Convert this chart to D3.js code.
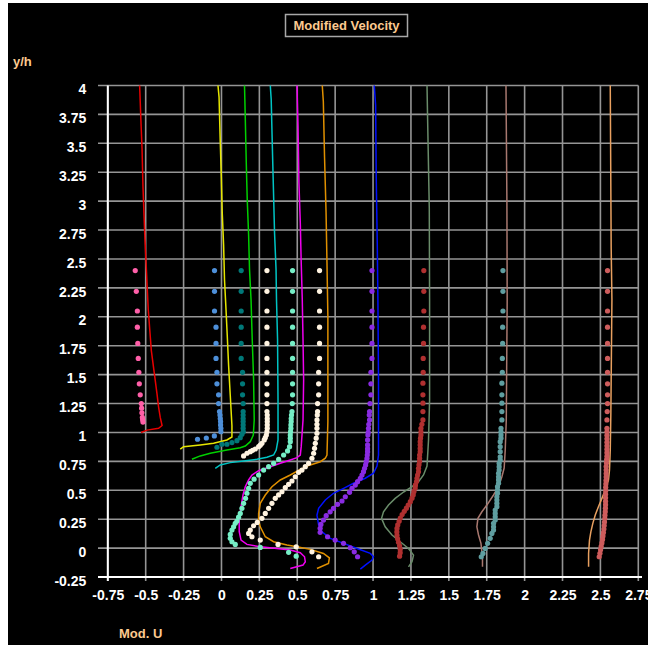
<!DOCTYPE html>
<html>
<head>
<meta charset="utf-8">
<script src="https://cdn.jsdelivr.net/npm/d3@7"></script>
<style>
body { margin: 0; background: #fff; }
</style>
</head>
<body>
<div id="chart"></div>
<script>
// tick labels
var xTicks = [-0.75, -0.5, -0.25, 0, 0.25, 0.5, 0.75, 1, 1.25, 1.5, 1.75, 2, 2.25, 2.5, 2.75];
var yTicks = [-0.25, 0, 0.25, 0.5, 0.75, 1, 1.25, 1.5, 1.75, 2, 2.25, 2.5, 2.75, 3, 3.25, 3.5, 3.75, 4];

// computed profiles (lines), [u, y/h]
var redLine = [[-0.540,4.0],[-0.531,3.68],[-0.524,3.45],[-0.518,3.13],[-0.511,2.88],[-0.505,2.67],[-0.498,2.48],[-0.483,2.06],[-0.463,1.71],[-0.437,1.45],[-0.426,1.34],[-0.415,1.22],[-0.404,1.13],[-0.392,1.06],[-0.415,1.036],[-0.491,1.02],[-0.531,1.0]];
var yellowLine = [[-0.023,4.0],[-0.016,3.90],[-0.008,3.51],[-0.001,3.21],[0.005,2.90],[0.014,2.62],[0.020,2.32],[0.030,2.06],[0.038,1.84],[0.047,1.58],[0.058,1.32],[0.069,1.06],[0.069,0.961],[0.036,0.935],[-0.052,0.906],[-0.140,0.892],[-0.250,0.877],[-0.272,0.855]];
var greenLine = [[0.152,4.0],[0.157,3.72],[0.164,3.31],[0.170,3.01],[0.179,2.71],[0.185,2.41],[0.195,2.15],[0.203,1.80],[0.212,1.455],[0.216,1.108],[0.210,0.978],[0.190,0.92],[0.157,0.883],[0.124,0.868],[0.036,0.848],[-0.074,0.82],[-0.140,0.797],[-0.195,0.768]];
var cyanLine = [[0.322,4.0],[0.328,3.88],[0.337,3.40],[0.344,3.04],[0.350,2.73],[0.360,2.41],[0.363,2.15],[0.370,1.80],[0.373,1.28],[0.373,0.935],[0.361,0.848],[0.344,0.805],[0.300,0.785],[0.234,0.768],[0.146,0.753],[0.058,0.739],[-0.008,0.719],[-0.041,0.69]];
var magentaLine = [[0.498,4.0],[0.505,3.645],[0.511,3.16],[0.520,2.81],[0.526,2.47],[0.533,2.15],[0.538,1.80],[0.542,1.455],[0.538,1.108],[0.526,0.877],[0.520,0.805],[0.498,0.782],[0.454,0.762],[0.388,0.733],[0.322,0.704],[0.245,0.669],[0.201,0.632],[0.179,0.589],[0.157,0.531],[0.142,0.459],[0.129,0.358],[0.117,0.242],[0.117,0.141],[0.129,0.069],[0.168,0.032],[0.256,0.011],[0.366,-0.003],[0.454,-0.017],[0.520,-0.04],[0.548,-0.075],[0.553,-0.118],[0.538,-0.147],[0.454,-0.176]];
var orangeLine = [[0.665,4.0],[0.672,3.86],[0.680,3.38],[0.690,2.90],[0.696,2.47],[0.702,2.0],[0.702,1.094],[0.696,0.805],[0.685,0.777],[0.652,0.747],[0.586,0.719],[0.520,0.681],[0.454,0.632],[0.388,0.589],[0.333,0.531],[0.289,0.459],[0.256,0.387],[0.245,0.30],[0.245,0.242],[0.256,0.184],[0.289,0.098],[0.344,0.055],[0.432,0.026],[0.498,0.011],[0.586,-0.011],[0.673,-0.046],[0.712,-0.085],[0.706,-0.132],[0.630,-0.176]];
var blueLine = [[1.008,4.0],[1.017,3.83],[1.021,3.21],[1.028,2.61],[1.032,2.15],[1.036,1.455],[1.036,0.805],[1.026,0.71],[1.003,0.647],[0.949,0.604],[0.871,0.561],[0.806,0.517],[0.739,0.474],[0.685,0.416],[0.641,0.344],[0.630,0.286],[0.641,0.199],[0.663,0.141],[0.718,0.084],[0.806,0.041],[0.894,-0.003],[0.982,-0.046],[1.003,-0.075],[0.993,-0.104],[0.949,-0.147],[0.916,-0.182]];
var sageLine = [[1.356,4.0],[1.360,3.71],[1.371,2.94],[1.373,2.15],[1.373,1.28],[1.366,0.935],[1.356,0.71],[1.333,0.632],[1.300,0.574],[1.257,0.531],[1.201,0.485],[1.146,0.43],[1.102,0.372],[1.069,0.314],[1.056,0.257],[1.080,0.184],[1.125,0.113],[1.179,0.055],[1.234,-0.003],[1.267,-0.061],[1.257,-0.118],[1.234,-0.162]];
var rosyLine = [[1.877,4.0],[1.883,3.01],[1.885,2.15],[1.881,1.455],[1.879,1.108],[1.872,0.848],[1.865,0.692],[1.850,0.617],[1.828,0.531],[1.795,0.459],[1.751,0.372],[1.718,0.314],[1.692,0.257],[1.685,0.184],[1.696,0.113],[1.712,0.041],[1.718,-0.032],[1.722,-0.104],[1.722,-0.162]];
var sandyLine = [[2.565,4.0],[2.571,2.60],[2.576,2.15],[2.571,1.455],[2.569,1.17],[2.565,0.848],[2.560,0.675],[2.553,0.589],[2.532,0.502],[2.510,0.43],[2.487,0.358],[2.466,0.286],[2.450,0.214],[2.437,0.141],[2.428,0.069],[2.422,-0.046],[2.422,-0.162]];

// measured profiles (dots)
var pinkDots = [[-0.569,2.4],[-0.562,2.22],[-0.555,2.05],[-0.555,1.91],[-0.552,1.77],[-0.549,1.64],[-0.545,1.52],[-0.542,1.42],[-0.536,1.325],[-0.529,1.25],[-0.527,1.21],[-0.525,1.17],[-0.522,1.13],[-0.520,1.11],[-0.518,1.09]];
var cornDots = [[-0.046,2.4],[-0.046,2.22],[-0.046,2.05],[-0.036,1.91],[-0.036,1.77],[-0.036,1.64],[-0.030,1.52],[-0.030,1.42],[-0.019,1.325],[-0.019,1.25],[-0.013,1.18],[-0.010,1.15],[-0.008,1.12],[-0.006,1.094],[-0.006,1.065],[-0.004,1.036],[-0.004,1.007],[-0.047,0.97],[-0.10,0.952],[-0.158,0.941]];
var tealDots = [[0.130,2.4],[0.130,2.22],[0.130,2.05],[0.130,1.91],[0.130,1.77],[0.130,1.64],[0.139,1.52],[0.139,1.42],[0.139,1.325],[0.143,1.25],[0.143,1.18],[0.143,1.15],[0.143,1.12],[0.143,1.094],[0.143,1.065],[0.143,1.036],[0.144,1.007],[0.135,0.985],[0.124,0.955],[0.102,0.929],[0.069,0.912],[0.036,0.898],[0.003,0.898],[-0.030,0.872]];
var ivoryDots = [[0.300,2.4],[0.300,2.22],[0.300,2.05],[0.300,1.91],[0.300,1.77],[0.300,1.64],[0.300,1.52],[0.300,1.42],[0.300,1.325],[0.300,1.25],[0.300,1.18],[0.302,1.15],[0.302,1.12],[0.302,1.094],[0.302,1.065],[0.302,1.036],[0.300,1.007],[0.296,0.978],[0.289,0.955],[0.282,0.935],[0.267,0.906],[0.256,0.89],[0.245,0.877],[0.223,0.857],[0.205,0.845],[0.190,0.834],[0.168,0.82],[0.146,0.797]];
var aquaDots = [[0.469,2.4],[0.469,2.22],[0.469,2.05],[0.469,1.91],[0.469,1.77],[0.469,1.64],[0.469,1.52],[0.469,1.42],[0.469,1.325],[0.467,1.25],[0.465,1.18],[0.462,1.15],[0.460,1.12],[0.460,1.094],[0.458,1.065],[0.458,1.036],[0.456,1.007],[0.454,0.978],[0.454,0.95],[0.454,0.92],[0.449,0.877],[0.436,0.840],[0.410,0.805],[0.377,0.768],[0.344,0.733],[0.311,0.704],[0.278,0.675],[0.245,0.632],[0.215,0.596],[0.190,0.56],[0.179,0.517],[0.168,0.474],[0.159,0.430],[0.146,0.387],[0.135,0.344],[0.124,0.30],[0.113,0.267],[0.102,0.234],[0.091,0.214],[0.08,0.184],[0.069,0.156],[0.058,0.118],[0.058,0.084],[0.069,0.055],[0.091,0.032],[0.256,0.006],[0.443,-0.037],[0.493,-0.07]];
var creamDots = [[0.647,2.4],[0.647,2.22],[0.647,2.05],[0.647,1.91],[0.647,1.77],[0.647,1.64],[0.641,1.52],[0.641,1.42],[0.641,1.325],[0.634,1.25],[0.634,1.18],[0.632,1.15],[0.630,1.108],[0.630,1.07],[0.630,1.036],[0.630,0.993],[0.625,0.950],[0.619,0.906],[0.614,0.863],[0.608,0.820],[0.597,0.777],[0.575,0.733],[0.553,0.704],[0.531,0.675],[0.509,0.655],[0.487,0.617],[0.465,0.580],[0.443,0.551],[0.421,0.522],[0.399,0.487],[0.377,0.46],[0.355,0.43],[0.333,0.387],[0.311,0.344],[0.289,0.30],[0.267,0.257],[0.236,0.222],[0.212,0.193],[0.190,0.156],[0.179,0.127],[0.201,0.098],[0.256,0.069],[0.373,0.032],[0.493,0.011],[0.597,-0.032],[0.641,-0.075]];
var violetDots = [[0.993,2.4],[0.993,2.22],[0.993,2.05],[0.993,1.91],[0.993,1.77],[0.993,1.64],[0.986,1.52],[0.986,1.42],[0.986,1.325],[0.980,1.25],[0.977,1.18],[0.975,1.15],[0.977,1.108],[0.972,1.07],[0.970,1.036],[0.968,1.0],[0.966,0.978],[0.964,0.935],[0.964,0.892],[0.964,0.86],[0.964,0.834],[0.962,0.805],[0.960,0.777],[0.955,0.747],[0.951,0.719],[0.944,0.690],[0.937,0.661],[0.927,0.632],[0.916,0.603],[0.898,0.574],[0.883,0.545],[0.861,0.517],[0.845,0.482],[0.817,0.444],[0.795,0.407],[0.766,0.378],[0.739,0.344],[0.717,0.314],[0.691,0.28],[0.673,0.242],[0.656,0.205],[0.651,0.171],[0.651,0.136],[0.700,0.098],[0.750,0.069],[0.805,0.041],[0.850,0.003],[0.876,-0.032],[0.898,-0.075]];
var brownDots = [[1.335,2.4],[1.335,2.22],[1.335,2.05],[1.333,1.91],[1.333,1.77],[1.331,1.64],[1.331,1.52],[1.329,1.426],[1.329,1.325],[1.329,1.253],[1.329,1.18],[1.329,1.108],[1.322,1.07],[1.316,1.036],[1.316,1.005],[1.316,0.978],[1.313,0.95],[1.311,0.92],[1.311,0.892],[1.311,0.862],[1.311,0.834],[1.307,0.805],[1.307,0.776],[1.307,0.748],[1.303,0.72],[1.300,0.69],[1.300,0.66],[1.294,0.632],[1.290,0.603],[1.287,0.575],[1.280,0.546],[1.278,0.52],[1.270,0.49],[1.265,0.46],[1.257,0.432],[1.246,0.401],[1.232,0.372],[1.220,0.345],[1.206,0.318],[1.192,0.29],[1.180,0.26],[1.172,0.232],[1.163,0.2],[1.158,0.17],[1.157,0.14],[1.158,0.11],[1.162,0.08],[1.168,0.05],[1.175,0.02],[1.179,-0.01],[1.179,-0.04],[1.175,-0.07]];
var cadetDots = [[1.857,2.4],[1.857,2.22],[1.857,2.05],[1.855,1.91],[1.855,1.77],[1.853,1.64],[1.853,1.52],[1.850,1.426],[1.850,1.325],[1.850,1.253],[1.850,1.18],[1.850,1.108],[1.844,1.036],[1.844,1.005],[1.844,0.978],[1.844,0.95],[1.839,0.92],[1.839,0.877],[1.839,0.834],[1.839,0.79],[1.839,0.762],[1.832,0.733],[1.832,0.704],[1.832,0.675],[1.828,0.647],[1.828,0.617],[1.828,0.589],[1.828,0.56],[1.821,0.531],[1.821,0.502],[1.821,0.474],[1.817,0.444],[1.817,0.416],[1.817,0.387],[1.817,0.358],[1.806,0.329],[1.806,0.30],[1.806,0.271],[1.806,0.242],[1.795,0.214],[1.795,0.184],[1.795,0.156],[1.784,0.127],[1.773,0.084],[1.756,0.041],[1.740,-0.003],[1.725,-0.046],[1.714,-0.075]];
var indianDots = [[2.547,2.4],[2.547,2.22],[2.547,2.05],[2.547,1.91],[2.547,1.77],[2.547,1.64],[2.547,1.52],[2.547,1.42],[2.547,1.325],[2.547,1.25],[2.545,1.18],[2.543,1.108],[2.543,1.036],[2.543,1.005],[2.543,0.975],[2.543,0.945],[2.543,0.915],[2.543,0.885],[2.543,0.855],[2.543,0.825],[2.543,0.795],[2.541,0.765],[2.540,0.735],[2.538,0.705],[2.538,0.675],[2.538,0.645],[2.538,0.615],[2.537,0.585],[2.536,0.555],[2.535,0.525],[2.535,0.495],[2.534,0.465],[2.534,0.435],[2.534,0.405],[2.534,0.375],[2.533,0.345],[2.532,0.315],[2.530,0.285],[2.529,0.255],[2.527,0.225],[2.525,0.195],[2.523,0.165],[2.520,0.135],[2.517,0.105],[2.514,0.075],[2.510,0.045],[2.505,0.015],[2.501,-0.015],[2.497,-0.045],[2.492,-0.075]];

var lines = [
	{ pts: redLine, color: "#e80000" },
	{ pts: yellowLine, color: "#e6e600" },
	{ pts: greenLine, color: "#00d000" },
	{ pts: cyanLine, color: "#00c4c4" },
	{ pts: magentaLine, color: "#f000f0" },
	{ pts: orangeLine, color: "#e09000" },
	{ pts: blueLine, color: "#0010ff" },
	{ pts: sageLine, color: "#6a8c6a" },
	{ pts: rosyLine, color: "#a8786f" },
	{ pts: sandyLine, color: "#e8a060" }
];
var dots = [
	{ pts: pinkDots, color: "#ff5fa8" },
	{ pts: cornDots, color: "#4d8fd9" },
	{ pts: tealDots, color: "#007878" },
	{ pts: ivoryDots, color: "#fff3e0" },
	{ pts: aquaDots, color: "#76eec6" },
	{ pts: creamDots, color: "#fff3e0" },
	{ pts: violetDots, color: "#8a2be2" },
	{ pts: brownDots, color: "#b03030" },
	{ pts: cadetDots, color: "#5f9ea0" },
	{ pts: indianDots, color: "#cd5c5c" }
];

var W = 648, H = 645;
var svg = d3.select("#chart").append("svg")
	.attr("width", W)
	.attr("height", H)
	.style("font-family", "'Liberation Sans', Arial, sans-serif");

svg.append("rect")
	.attr("x", 8).attr("y", 3)
	.attr("width", W - 8).attr("height", H - 3)
	.attr("fill", "#000");

var x = d3.scaleLinear().domain([-0.75, 2.75]).range([107.8, 638.3]);
var y = d3.scaleLinear().domain([-0.25, 4]).range([577, 85.5]);

// grid
var grid = svg.append("g").attr("stroke", "#959595").attr("stroke-width", 1.6);
grid.selectAll("line.h")
	.data(yTicks)
	.enter()
	.append("line")
	.attr("class", "h")
	.attr("x1", 98).attr("x2", x(2.75))
	.attr("y1", function(d) { return y(d); })
	.attr("y2", function(d) { return y(d); });
grid.selectAll("line.v")
	.data(xTicks)
	.enter()
	.append("line")
	.attr("class", "v")
	.attr("y1", y(4)).attr("y2", 581)
	.attr("x1", function(d) { return x(d); })
	.attr("x2", function(d) { return x(d); });

// white axis lines
svg.append("line")
	.attr("x1", x(-0.75)).attr("x2", x(-0.75))
	.attr("y1", y(4)).attr("y2", 581)
	.attr("stroke", "#fff").attr("stroke-width", 2);
svg.append("line")
	.attr("x1", 98).attr("x2", 642)
	.attr("y1", y(-0.25)).attr("y2", y(-0.25))
	.attr("stroke", "#fff").attr("stroke-width", 2);

// tick labels through d3 axes
var xAxis = svg.append("g")
	.attr("transform", "translate(0," + y(-0.25) + ")")
	.call(d3.axisBottom(x).tickValues(xTicks).tickSize(0).tickPadding(13).tickFormat(function(d) { return String(d); }));
var yAxis = svg.append("g")
	.attr("transform", "translate(" + x(-0.75) + ",0)")
	.call(d3.axisLeft(y).tickValues(yTicks).tickSize(0).tickPadding(21.5).tickFormat(function(d) { return String(d); }));
[xAxis, yAxis].forEach(function(ax) {
	ax.select(".domain").remove();
	ax.selectAll("text")
		.attr("fill", "#fff")
		.style("font-size", "14px")
		.style("font-weight", "bold")
		.style("font-family", "'Liberation Sans', Arial, sans-serif");
});
yAxis.selectAll("text").attr("dy", "0.58em");

// profiles
var line = d3.line()
	.x(function(d) { return x(d[0]); })
	.y(function(d) { return y(d[1]); });

svg.append("g").selectAll("path")
	.data(lines)
	.enter()
	.append("path")
	.attr("d", function(d) { return line(d.pts); })
	.attr("fill", "none")
	.attr("stroke", function(d) { return d.color; })
	.attr("stroke-width", 1.5);

dots.forEach(function(s) {
	svg.append("g").selectAll("circle")
		.data(s.pts)
		.enter()
		.append("circle")
		.attr("cx", function(d) { return x(d[0]); })
		.attr("cy", function(d) { return y(d[1]); })
		.attr("r", 2.6)
		.attr("fill", s.color);
});

// title and axis names
svg.append("rect")
	.attr("x", 285.5).attr("y", 14.5)
	.attr("width", 122).attr("height", 22)
	.attr("fill", "#000")
	.attr("stroke", "#a8a8a8")
	.attr("stroke-width", 1.5);
svg.append("text")
	.attr("x", 346.5).attr("y", 30)
	.attr("text-anchor", "middle")
	.attr("fill", "#fcc98f")
	.style("font-size", "13px")
	.style("font-weight", "bold")
	.text("Modified Velocity");
svg.append("text")
	.attr("x", 13).attr("y", 66)
	.attr("fill", "#fcc98f")
	.style("font-size", "13px")
	.style("font-weight", "bold")
	.text("y/h");
svg.append("text")
	.attr("x", 119).attr("y", 638)
	.attr("fill", "#fcc98f")
	.style("font-size", "13px")
	.style("font-weight", "bold")
	.text("Mod. U");
</script>
</body>
</html>
